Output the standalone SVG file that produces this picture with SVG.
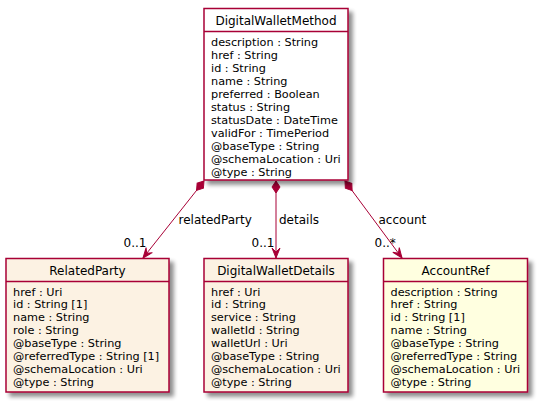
<svg xmlns="http://www.w3.org/2000/svg" width="537" height="402" viewBox="0 0 537 402">
<style>
  .box { stroke: #A80036; stroke-width: 1.5; filter: url(#shadow); }
  .sep { stroke: #A80036; stroke-width: 1.5; }
  .white { fill: #FFFFFF; }
  .res { fill: #FCF2E3; }
  .ref { fill: #FFFFE0; }
  .title { font-family: "DejaVu Sans", sans-serif; font-size: 12px; fill: #000000; text-anchor: middle; }
  .attr { font-family: "DejaVu Sans", sans-serif; font-size: 11.25px; fill: #000000; }
  .lbl { font-family: "DejaVu Sans", sans-serif; font-size: 12px; fill: #000000; }
  .conn { stroke: #A80036; stroke-width: 1; fill: none; marker-start: url(#diamond); marker-end: url(#arrow); }
</style>
<defs>
  <filter id="shadow" x="-10%" y="-10%" width="130%" height="130%">
    <feGaussianBlur in="SourceAlpha" stdDeviation="2"/>
    <feOffset dx="4" dy="4" result="o"/>
    <feComponentTransfer in="o" result="s"><feFuncA type="linear" slope="0.45"/></feComponentTransfer>
    <feMerge><feMergeNode in="s"/><feMergeNode in="SourceGraphic"/></feMerge>
  </filter>
  <marker id="diamond" markerUnits="userSpaceOnUse" orient="auto" refX="0" refY="0" markerWidth="14" markerHeight="10" overflow="visible">
    <path d="M0,0 L6,-4 L12,0 L6,4 Z" fill="#A80036" stroke="#A80036" stroke-width="1"/>
  </marker>
  <marker id="arrow" markerUnits="userSpaceOnUse" orient="auto" refX="0" refY="0" markerWidth="12" markerHeight="10" overflow="visible">
    <path d="M0,0 L-10,-4 L-6,0 L-10,4 Z" fill="#A80036" stroke="#A80036" stroke-width="1"/>
  </marker>
</defs>

<g id="connectors">
  <path class="conn" d="M204,181 L143,258"/>
  <path class="conn" d="M276,181 L276,258"/>
  <path class="conn" d="M345,181 L402,258"/>
  <text class="lbl" x="178.5" y="223.5">relatedParty</text>
  <text class="lbl" x="123.5" y="246.5">0..1</text>
  <text class="lbl" x="279" y="223.5">details</text>
  <text class="lbl" x="251.5" y="246.5">0..1</text>
  <text class="lbl" x="378.5" y="223.5">account</text>
  <text class="lbl" x="374.5" y="246.5">0..*</text>
</g>

<g id="DigitalWalletMethod">
  <rect class="box white" x="204" y="8.5" width="144" height="171.5"/>
  <line class="sep" x1="204" y1="31.5" x2="348" y2="31.5"/>
  <text class="title" x="276" y="25">DigitalWalletMethod</text>
  <text class="attr" x="211" y="46">description : String</text>
  <text class="attr" x="211" y="58.95">href : String</text>
  <text class="attr" x="211" y="71.9">id : String</text>
  <text class="attr" x="211" y="84.85">name : String</text>
  <text class="attr" x="211" y="97.8">preferred : Boolean</text>
  <text class="attr" x="211" y="110.75">status : String</text>
  <text class="attr" x="211" y="123.7">statusDate : DateTime</text>
  <text class="attr" x="211" y="136.65">validFor : TimePeriod</text>
  <text class="attr" x="211" y="149.6">@baseType : String</text>
  <text class="attr" x="211" y="162.55">@schemaLocation : Uri</text>
  <text class="attr" x="211" y="175.5">@type : String</text>
</g>

<g id="RelatedParty">
  <rect class="box res" x="6" y="258.5" width="163" height="133.5"/>
  <line class="sep" x1="6" y1="281.5" x2="169" y2="281.5"/>
  <text class="title" x="87.5" y="275">RelatedParty</text>
  <text class="attr" x="13" y="295.5">href : Uri</text>
  <text class="attr" x="13" y="308.45">id : String [1]</text>
  <text class="attr" x="13" y="321.4">name : String</text>
  <text class="attr" x="13" y="334.35">role : String</text>
  <text class="attr" x="13" y="347.3">@baseType : String</text>
  <text class="attr" x="13" y="360.25">@referredType : String [1]</text>
  <text class="attr" x="13" y="373.2">@schemaLocation : Uri</text>
  <text class="attr" x="13" y="386.15">@type : String</text>
</g>

<g id="DigitalWalletDetails">
  <rect class="box res" x="204" y="258.5" width="144" height="133.5"/>
  <line class="sep" x1="204" y1="281.5" x2="348" y2="281.5"/>
  <text class="title" x="276" y="275">DigitalWalletDetails</text>
  <text class="attr" x="211" y="295.5">href : Uri</text>
  <text class="attr" x="211" y="308.45">id : String</text>
  <text class="attr" x="211" y="321.4">service : String</text>
  <text class="attr" x="211" y="334.35">walletId : String</text>
  <text class="attr" x="211" y="347.3">walletUrl : Uri</text>
  <text class="attr" x="211" y="360.25">@baseType : String</text>
  <text class="attr" x="211" y="373.2">@schemaLocation : Uri</text>
  <text class="attr" x="211" y="386.15">@type : String</text>
</g>

<g id="AccountRef">
  <rect class="box ref" x="383.5" y="258.5" width="144" height="133.5"/>
  <line class="sep" x1="383.5" y1="281.5" x2="527.5" y2="281.5"/>
  <text class="title" x="455.5" y="275">AccountRef</text>
  <text class="attr" x="390.5" y="295.5">description : String</text>
  <text class="attr" x="390.5" y="308.45">href : String</text>
  <text class="attr" x="390.5" y="321.4">id : String [1]</text>
  <text class="attr" x="390.5" y="334.35">name : String</text>
  <text class="attr" x="390.5" y="347.3">@baseType : String</text>
  <text class="attr" x="390.5" y="360.25">@referredType : String</text>
  <text class="attr" x="390.5" y="373.2">@schemaLocation : Uri</text>
  <text class="attr" x="390.5" y="386.15">@type : String</text>
</g>
</svg>
